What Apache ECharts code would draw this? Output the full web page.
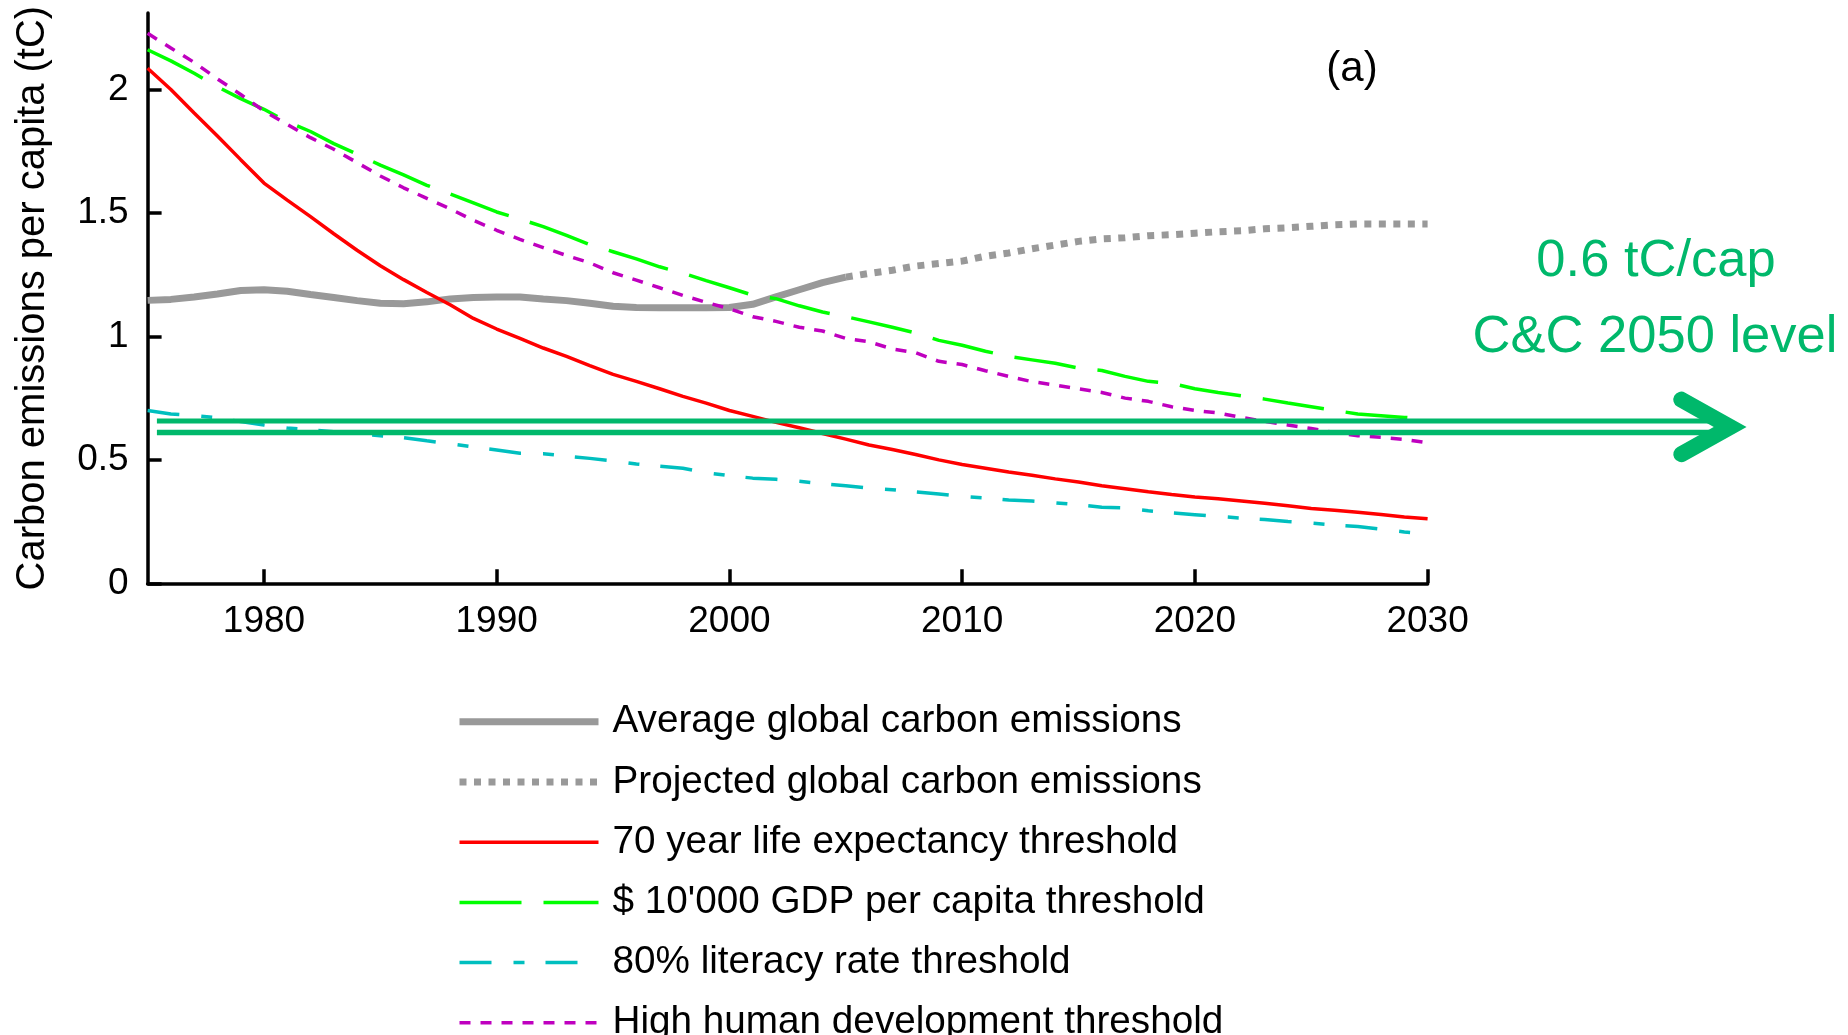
<!DOCTYPE html>
<html>
<head>
<meta charset="utf-8">
<script src="https://cdn.jsdelivr.net/npm/echarts@6/dist/echarts.min.js"></script>
<style>
html,body{margin:0;padding:0;background:#fff;}
#c{width:1848px;height:1035px;}
</style>
</head>
<body>
<div id="c"></div>
<script>
// ---------- data ----------
const years = [1975,1976,1977,1978,1979,1980,1981,1982,1983,1984,1985,1986,1987,1988,1989,1990,
  1991,1992,1993,1994,1995,1996,1997,1998,1999,2000,2001,2002,2003,2004,2005,2006,2007,2008,2009,2010,
  2011,2012,2013,2014,2015,2016,2017,2018,2019,2020,2021,2022,2023,2024,2025,2026,2027,2028,2029,2030];

const avgYears = [1975,1976,1977,1978,1979,1980,1981,1982,1983,1984,1985,1986,1987,1988,1989,1990,
  1991,1992,1993,1994,1995,1996,1997,1998,1999,2000,2001,2002,2003,2004,2005];
const avgEmissions = [1.146,1.150,1.160,1.172,1.186,1.189,1.183,1.170,1.158,1.145,1.134,1.132,1.140,1.152,1.158,1.160,
  1.160,1.152,1.145,1.134,1.122,1.117,1.116,1.116,1.116,1.117,1.130,1.160,1.189,1.218,1.240];

const projYears = [2005,2006,2007,2008,2009,2010,2011,2012,2013,2014,2015,2016,2017,2018,2019,2020,
  2021,2022,2023,2024,2025,2026,2027,2028,2029,2030];
const projEmissions = [1.240,1.255,1.268,1.285,1.295,1.305,1.325,1.338,1.355,1.370,1.385,1.395,1.400,1.408,1.412,1.418,
  1.424,1.428,1.436,1.440,1.446,1.452,1.455,1.455,1.455,1.455];

const lifeExpectancy = [2.086,2.000,1.905,1.812,1.716,1.621,1.552,1.485,1.416,1.349,1.286,1.230,1.178,1.128,1.073,1.030,
  0.992,0.953,0.919,0.882,0.846,0.818,0.788,0.757,0.730,0.700,0.676,0.652,0.630,0.607,0.584,0.560,0.542,0.522,0.500,0.481,
  0.466,0.451,0.438,0.423,0.410,0.395,0.383,0.371,0.360,0.350,0.342,0.333,0.324,0.314,0.303,0.296,0.288,0.279,0.269,0.261];

const gdpThreshold = [2.161,2.116,2.066,2.011,1.963,1.920,1.869,1.830,1.781,1.738,1.694,1.654,1.612,1.577,1.541,1.504,
  1.475,1.445,1.409,1.372,1.343,1.314,1.282,1.256,1.226,1.197,1.167,1.153,1.124,1.099,1.080,1.059,1.037,1.014,0.984,0.964,
  0.940,0.919,0.905,0.891,0.872,0.862,0.838,0.818,0.810,0.788,0.773,0.759,0.746,0.730,0.715,0.700,0.686,0.679,0.672,0.665];

const literacy = [0.700,0.686,0.680,0.670,0.655,0.641,0.629,0.622,0.614,0.605,0.598,0.590,0.577,0.565,0.552,0.540,
  0.527,0.525,0.515,0.506,0.496,0.483,0.474,0.466,0.448,0.436,0.426,0.421,0.413,0.403,0.395,0.385,0.379,0.370,0.362,0.352,
  0.346,0.337,0.333,0.326,0.318,0.308,0.305,0.294,0.285,0.278,0.271,0.264,0.258,0.250,0.244,0.236,0.230,0.219,0.208,0.200];

const hdi = [2.228,2.168,2.110,2.043,1.980,1.913,1.859,1.805,1.758,1.704,1.650,1.602,1.559,1.517,1.470,1.430,
  1.393,1.360,1.328,1.298,1.258,1.228,1.197,1.166,1.138,1.112,1.080,1.061,1.037,1.022,0.992,0.978,0.949,0.934,0.899,0.886,
  0.861,0.838,0.817,0.803,0.788,0.773,0.750,0.737,0.715,0.700,0.690,0.672,0.656,0.641,0.627,0.611,0.598,0.591,0.583,0.569];

const seriesNames = ['Average global carbon emissions','Projected global carbon emissions','70 year life expectancy threshold',
  "$ 10'000 GDP per capita threshold",'80% literacy rate threshold','High human development threshold'];

const xTicks = [1980,1990,2000,2010,2020,2030];
const yTicks = [0,0.5,1,1.5,2];

// annotation (C&C 2050 level arrow)
const arrowUpper = 0.657, arrowLower = 0.611, arrowMid = 0.633, arrowArmTop = 0.744, arrowArmBottom = 0.523;
const arrowStartYear = 1975.4, arrowLineEndYear = 2042.1, arrowArmYear = 2040.9, arrowVertexYear = 2043.0;
const annotationLines = ['0.6 tC/cap', 'C&C 2050 level'];

// ---------- chart ----------
const FONT = 'Liberation Sans, Arial, sans-serif';
const GREEN_ANN = '#00B86B';
const pair = (xs, vs) => xs.map((x, i) => [x, vs[i]]);

const chart = echarts.init(document.getElementById('c'), null, {renderer: 'canvas'});

function lineSeries(name, xs, vs, color, width, type, z) {
  return {
    name, type: 'line', data: pair(xs, vs), symbol: 'none', showSymbol: false,
    lineStyle: {color, width, type}, itemStyle: {color}, z, animation: false, silent: true
  };
}

chart.setOption({
  animation: false,
  backgroundColor: '#fff',
  grid: {left: 147.6, top: 13, right: 420.4, bottom: 451.7, containLabel: false},
  xAxis: {
    type: 'value', min: 1975, max: 2030,
    axisLine: {lineStyle: {color: '#000', width: 3.5}},
    axisTick: {inside: true, length: 14, lineStyle: {color: '#000', width: 3.5}, customValues: xTicks},
    axisLabel: {customValues: xTicks, fontSize: 37, color: '#000', margin: 20, fontFamily: FONT,
      formatter: v => String(v)},
    splitLine: {show: false}
  },
  yAxis: {
    type: 'value', min: 0, max: 2.31,
    name: 'Carbon emissions per capita (tC)', nameLocation: 'middle', nameGap: 95,
    nameTextStyle: {fontSize: 40, color: '#000', fontFamily: FONT},
    axisLine: {show: true, lineStyle: {color: '#000', width: 3.5}},
    axisTick: {show: true, inside: true, length: 14, lineStyle: {color: '#000', width: 3.5}, customValues: yTicks},
    axisLabel: {customValues: yTicks, fontSize: 37, color: '#000', margin: 19, fontFamily: FONT},
    splitLine: {show: false}
  },
  legend: {
    orient: 'vertical', left: 456, top: 702.3, height: 420, width: 900, padding: 0,
    itemWidth: 139, itemHeight: 14, itemGap: 21.2,
    data: seriesNames,
    textStyle: {fontSize: 38.7, color: '#000', fontFamily: FONT, padding: [0, 0, 0, 9]},
    lineStyle: {width: 'inherit'},
    itemStyle: {opacity: 0, borderWidth: 0},
    selectedMode: false
  },
  series: [
    lineSeries(seriesNames[0], avgYears, avgEmissions, '#999999', 7, 'solid', 2),
    lineSeries(seriesNames[1], projYears, projEmissions, '#999999', 7, [7, 7.5], 2),
    lineSeries(seriesNames[2], years, lifeExpectancy, '#FF0000', 3.5, 'solid', 3),
    lineSeries(seriesNames[3], years, gdpThreshold, '#00FF00', 3.5, [62, 22], 3),
    lineSeries(seriesNames[4], years, literacy, '#00BFBF', 3.5, [32, 22, 11, 21], 3),
    lineSeries(seriesNames[5], years, hdi, '#BF00BF', 3.5, [11, 10], 3)
  ]
});

function px(year, val) { return chart.convertToPixel({xAxisIndex: 0, yAxisIndex: 0}, [year, val]); }

const pU0 = px(arrowStartYear, arrowUpper), pU1 = px(arrowLineEndYear, arrowUpper);
const pL0 = px(arrowStartYear, arrowLower), pL1 = px(arrowLineEndYear, arrowLower);
const armA = px(arrowArmYear, arrowArmTop), vtx = px(arrowVertexYear, arrowMid), armB = px(arrowArmYear, arrowArmBottom);

chart.setOption({
  graphic: [
    {type: 'line', z: 50, shape: {x1: pU0[0], y1: pU0[1], x2: pU1[0], y2: pU1[1]}, style: {stroke: GREEN_ANN, lineWidth: 5}},
    {type: 'line', z: 50, shape: {x1: pL0[0], y1: pL0[1], x2: pL1[0], y2: pL1[1]}, style: {stroke: GREEN_ANN, lineWidth: 5.5}},
    {type: 'polyline', z: 51, shape: {points: [armA, vtx, armB]},
      style: {stroke: GREEN_ANN, lineWidth: 16, lineCap: 'round', lineJoin: 'miter', fill: null}},
    {type: 'text', z: 52, x: 1656, y: 262,
      style: {text: annotationLines[0], fontSize: 52.5, fontFamily: FONT, fill: GREEN_ANN, align: 'center', verticalAlign: 'middle'}},
    {type: 'text', z: 52, x: 1655, y: 338,
      style: {text: annotationLines[1], fontSize: 52.5, fontFamily: FONT, fill: GREEN_ANN, align: 'center', verticalAlign: 'middle'}},
    {type: 'text', z: 52, x: 1352, y: 69,
      style: {text: '(a)', fontSize: 42, fontFamily: FONT, fill: '#000', align: 'center', verticalAlign: 'middle'}}
  ]
});
</script>
</body>
</html>
